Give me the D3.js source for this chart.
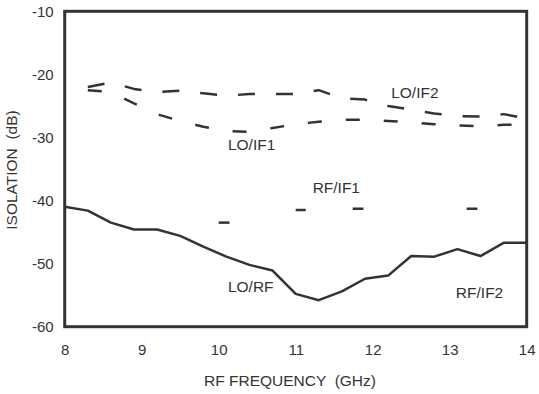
<!DOCTYPE html>
<meta charset="utf-8">
<title>isolation vs rf frequency</title>
<style>
body { margin: 0; background: #fff; }
svg { font-family: "Liberation Sans", Arial, sans-serif; }
.tick text { fill: #333; font-size: 15px; }
.lbl { fill: #333; font-size: 15.5px; white-space: pre; }
.curve { fill: none; stroke: #333; stroke-width: 2.5; stroke-linejoin: round; }
</style>
<body>
<script src="https://cdnjs.cloudflare.com/ajax/libs/d3/7.8.5/d3.min.js"></script>
<script>
var width = 539, height = 394;
var margin = {top: 11.3, right: 12.3, bottom: 67.3, left: 64.7};

// values
var freq = [8, 8.3, 8.6, 8.9, 9.2, 9.5, 9.8, 10.1, 10.4, 10.7, 11, 11.3, 11.6, 11.9, 12.2, 12.5, 12.8, 13.1, 13.4, 13.7, 14];
var loRf = [-41, -41.6, -43.5, -44.6, -44.6, -45.6, -47.3, -48.9, -50.2, -51.1, -54.8, -55.8, -54.4, -52.4, -51.9, -48.8, -48.9, -47.7, -48.8, -46.7, -46.7];
var freqIf = [8.3, 8.6, 8.9, 9.2, 9.5, 9.8, 10.1, 10.4, 10.7, 11, 11.3, 11.6, 11.9, 12.2, 12.5, 12.8, 13.1, 13.4, 13.7, 14];
var loIf2 = [-22, -21.3, -22.3, -22.8, -22.6, -23, -23.4, -23.1, -23.1, -23.1, -22.5, -23.8, -24, -25, -25.6, -26.2, -26.6, -26.7, -26.3, -27];
var loIf1 = [-22.5, -22.8, -24.6, -26.3, -27.4, -28.3, -29, -29.1, -28.5, -27.9, -27.5, -27.2, -27.2, -27.4, -27.6, -27.9, -28.1, -28.2, -28, -28];
// RF/IF1 shows only as short dashes: [start, end, level]
var rfIf1 = [[10, 10.14, -43.5], [11, 11.13, -41.5], [11.74, 11.88, -41.3], [13.22, 13.36, -41.3]];
var xTicks = [8, 9, 10, 11, 12, 13, 14];
var yTicks = [-10, -20, -30, -40, -50, -60];
var labels = [
  {text: "LO/IF2", x: 12.24, y: -22.95},
  {text: "LO/IF1", x: 10.12, y: -31.2},
  {text: "RF/IF1", x: 11.22, y: -37.9},
  {text: "LO/RF", x: 10.12, y: -53.7},
  {text: "RF/IF2", x: 13.08, y: -54.6}
];

var svg = d3.select("body").append("svg")
    .attr("width", width)
    .attr("height", height);

var x = d3.scaleLinear().domain([8, 14]).range([margin.left, width - margin.right]);
var y = d3.scaleLinear().domain([-60, -10]).range([height - margin.bottom, margin.top]);

svg.append("g")
    .attr("transform", "translate(0," + (height - margin.bottom) + ")")
    .call(d3.axisBottom(x).tickValues(xTicks).tickFormat(String).tickSize(0).tickPadding(18))
    .call(function(g) { g.select(".domain").remove(); });

svg.append("g")
    .attr("transform", "translate(" + margin.left + ",0)")
    .call(d3.axisLeft(y).tickValues(yTicks).tickFormat(String).tickSize(0).tickPadding(11))
    .call(function(g) { g.select(".domain").remove(); });

var line = d3.line()
    .x(function(d) { return x(d[0]); })
    .y(function(d) { return y(d[1]); });

svg.append("path")
    .attr("class", "curve")
    .attr("d", line(d3.zip(freq, loRf)));

svg.append("path")
    .attr("class", "curve")
    .attr("stroke-dasharray", "17,21")
    .attr("d", line(d3.zip(freqIf, loIf2)));

svg.append("path")
    .attr("class", "curve")
    .attr("stroke-dasharray", "14,24")
    .attr("d", line(d3.zip(freqIf, loIf1)));

svg.selectAll("line.rfif1")
    .data(rfIf1)
  .enter().append("line")
    .attr("class", "curve")
    .attr("x1", function(d) { return x(d[0]); })
    .attr("x2", function(d) { return x(d[1]); })
    .attr("y1", function(d) { return y(d[2]); })
    .attr("y2", function(d) { return y(d[2]); });

// frame
svg.append("rect")
    .attr("x", margin.left)
    .attr("y", margin.top)
    .attr("width", width - margin.left - margin.right)
    .attr("height", height - margin.top - margin.bottom)
    .attr("fill", "none")
    .attr("stroke", "#333")
    .attr("stroke-width", 3);

svg.selectAll("text.lbl")
    .data(labels)
  .enter().append("text")
    .attr("class", "lbl")
    .attr("x", function(d) { return x(d.x); })
    .attr("y", function(d) { return y(d.y); })
    .attr("dy", "0.35em")
    .text(function(d) { return d.text; });

svg.append("text")
    .attr("class", "lbl")
    .attr("x", 290)
    .attr("y", 381)
    .attr("dy", "0.35em")
    .attr("text-anchor", "middle")
    .text("RF FREQUENCY  (GHz)");

svg.append("text")
    .attr("class", "lbl")
    .attr("transform", "translate(12,170) rotate(-90)")
    .attr("dy", "0.35em")
    .attr("text-anchor", "middle")
    .text("ISOLATION  (dB)");
</script>
